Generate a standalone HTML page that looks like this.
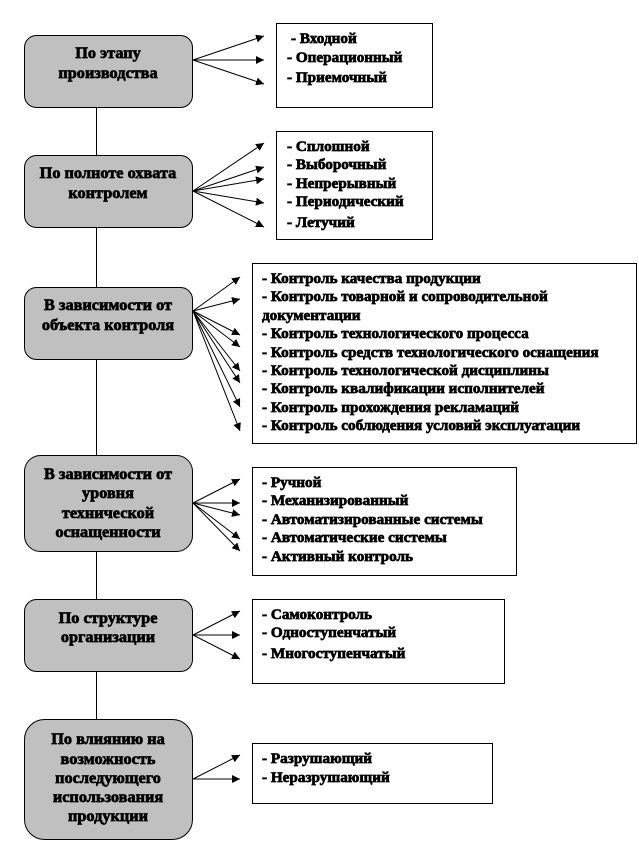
<!DOCTYPE html>
<html><head><meta charset="utf-8">
<style>
html,body{margin:0;padding:0;background:#fff}
svg{display:block}
text{font-family:"Liberation Serif","Noto Serif CJK SC",serif;font-weight:bold;font-size:15.200px;fill:#000;stroke:#000;stroke-width:.7px}
.c text{font-size:16.300px;text-anchor:middle}
.g rect{fill:#c0c0c0;stroke:#000;stroke-width:1}
.b rect{fill:#fff;stroke:#000;stroke-width:1}
.a line{stroke:#000;stroke-width:1;marker-end:url(#m)}
</style></head><body>
<svg width="639" height="843" viewBox="0 0 639 843" xmlns="http://www.w3.org/2000/svg">
<defs><marker id="m" markerUnits="userSpaceOnUse" markerWidth="9" markerHeight="8" refX="8" refY="4" orient="auto"><path d="M0 0L8 4L0 8Z" fill="#000"/></marker></defs>
<path d="M96.5 107V155M96.5 227V288M96.5 360V456M96.5 551V599M96.5 671V719" stroke="#000" fill="none"/>
<g class="g">
<rect x="24.500" y="35.500" width="168" height="72" rx="12"/>
<rect x="24.500" y="155.500" width="168" height="72" rx="12"/>
<rect x="24.500" y="287.500" width="168" height="72" rx="12"/>
<rect x="24.500" y="455.500" width="168" height="96" rx="16"/>
<rect x="24.500" y="599.500" width="168" height="72" rx="12"/>
<rect x="24.500" y="719.500" width="168" height="120" rx="20"/>
</g>
<g class="b">
<rect x="276.500" y="23.500" width="156" height="84"/>
<rect x="276.500" y="131.500" width="156" height="108"/>
<rect x="252.500" y="263.500" width="384" height="180"/>
<rect x="252.500" y="467.500" width="264" height="108"/>
<rect x="252.500" y="599.500" width="252" height="84"/>
<rect x="252.500" y="743.500" width="240" height="60"/>
</g>
<g class="a">
<line x1="193" y1="60" x2="264" y2="36"/><line x1="193" y1="60" x2="264" y2="60"/><line x1="193" y1="60" x2="264" y2="84"/>
<line x1="193" y1="191" x2="264" y2="143"/><line x1="193" y1="191" x2="264" y2="167"/><line x1="193" y1="191" x2="264" y2="179"/><line x1="193" y1="191" x2="264" y2="203"/><line x1="193" y1="191" x2="264" y2="227"/>
<line x1="193" y1="311" x2="240" y2="277"/><line x1="193" y1="311" x2="240" y2="299"/><line x1="193" y1="311" x2="240" y2="335"/><line x1="193" y1="311" x2="240" y2="347"/><line x1="193" y1="311" x2="240" y2="371"/><line x1="193" y1="311" x2="240" y2="383"/><line x1="193" y1="311" x2="240" y2="407"/><line x1="193" y1="311" x2="240" y2="431"/>
<line x1="193" y1="503" x2="240" y2="479"/><line x1="193" y1="503" x2="240" y2="503"/><line x1="193" y1="503" x2="240" y2="515"/><line x1="193" y1="503" x2="240" y2="539"/><line x1="193" y1="503" x2="240" y2="551"/>
<line x1="193" y1="635" x2="240" y2="611"/><line x1="193" y1="635" x2="240" y2="635"/><line x1="193" y1="635" x2="240" y2="659"/>
<line x1="193" y1="779" x2="240" y2="755"/><line x1="193" y1="779" x2="240" y2="779"/>
</g>
<g class="c">
<text x="108" y="58">По этапу</text><text x="108" y="78">производства</text>
<text x="108" y="178">По полноте охвата</text><text x="108" y="198">контролем</text>
<text x="108" y="310">В зависимости от</text><text x="108" y="330">объекта контроля</text>
<text x="108" y="479">В зависимости от</text><text x="108" y="498">уровня</text><text x="108" y="518">технической</text><text x="108" y="537">оснащенности</text>
<text x="108" y="623">По структуре</text><text x="108" y="642">организации</text>
<text x="108" y="744">По влиянию на</text><text x="108" y="764">возможность</text><text x="108" y="783">последующего</text><text x="108" y="802">использования</text><text x="108" y="821">продукции</text>
</g>
<g transform="translate(0,1)">
<text x="291" y="42">- Входной</text><text x="287" y="61">- Операционный</text><text x="287" y="81">- Приемочный</text>
<text x="287" y="150">- Сплошной</text><text x="287" y="168">- Выборочный</text><text x="287" y="187">- Непрерывный</text><text x="287" y="205">- Периодический</text><text x="287" y="226">- Летучий</text>
<text x="262" y="282">- Контроль качества продукции</text>
<text x="262" y="300">- Контроль товарной и сопроводительной</text>
<text x="262" y="319">документации</text>
<text x="262" y="337">- Контроль технологического процесса</text>
<text x="262" y="356">- Контроль средств технологического оснащения</text>
<text x="262" y="374">- Контроль технологической дисциплины</text>
<text x="262" y="392">- Контроль квалификации исполнителей</text>
<text x="262" y="411">- Контроль прохождения рекламаций</text>
<text x="262" y="429">- Контроль соблюдения условий эксплуатации</text>
<text x="262" y="486">- Ручной</text><text x="262" y="504">- Механизированный</text><text x="262" y="523">- Автоматизированные системы</text><text x="262" y="541">- Автоматические системы</text><text x="262" y="560">- Активный контроль</text>
<text x="262" y="618">- Самоконтроль</text><text x="262" y="636">- Одноступенчатый</text><text x="262" y="657">- Многоступенчатый</text>
<text x="262" y="762">- Разрушающий</text><text x="262" y="781">- Неразрушающий</text>
</g>
</svg>
</body></html>
